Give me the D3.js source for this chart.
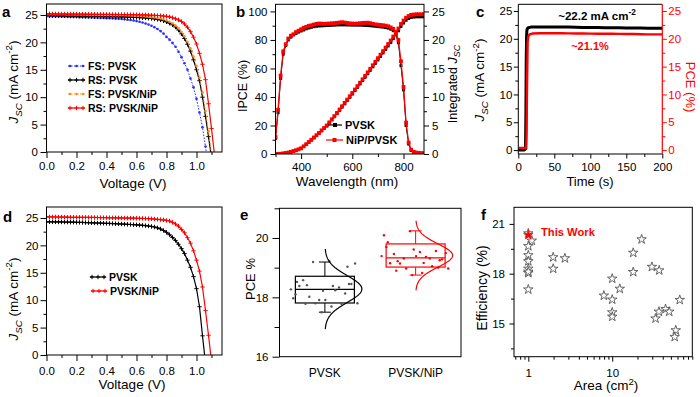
<!DOCTYPE html>
<html>
<head>
<meta charset="utf-8">
<script src="https://cdn.jsdelivr.net/npm/d3@7"></script>
<style>
body { margin: 0; background: #fff; }
svg text { font-family: Arial, "Liberation Sans", sans-serif; }
</style>
</head>
<body>
<svg id="fig" width="700" height="397"></svg>
<script>
// ---------- data ----------
// panel a / d : J-V curves, voltage grid (V)
const voltJV = [0,0.02,0.04,0.06,0.08,0.1,0.12,0.14,0.16,0.18,0.2,0.22,0.24,0.26,0.28,0.3,0.32,0.34,0.36,0.38,
  0.4,0.42,0.44,0.46,0.48,0.5,0.52,0.54,0.56,0.58,0.6,0.62,0.64,0.66,0.68,0.7,0.72,0.74,0.76,0.78,
  0.8,0.82,0.84,0.86,0.88,0.9,0.92,0.94,0.96,0.98,1,1.02,1.04,1.06,1.08,1.1,1.12];
// panel a (mA cm-2)
const jFsPvsk = [24.75,24.74,24.73,24.72,24.71,24.70,24.68,24.67,24.65,24.64,24.62,24.60,24.58,24.56,24.54,24.52,24.50,24.48,24.46,24.44,
  24.42,24.39,24.36,24.33,24.29,24.25,24.20,24.14,24.07,23.98,23.88,23.76,23.62,23.45,23.25,23.02,22.75,22.43,22.06,21.6,
  21.0,20.5,19.9,19.2,18.3,17.3,16.2,15.0,13.4,11.8,9.7,7.2,4.5,1.0,-3.0];
const jRsPvsk = [24.9,24.89,24.88,24.87,24.86,24.85,24.84,24.83,24.82,24.81,24.8,24.79,24.78,24.77,24.76,24.75,24.74,24.73,24.72,24.71,
  24.7,24.69,24.68,24.67,24.66,24.65,24.63,24.61,24.59,24.57,24.55,24.52,24.49,24.45,24.4,24.35,24.28,24.2,24.1,23.95,
  23.75,23.5,23.2,22.8,22.25,21.55,20.7,19.65,18.4,16.8,15.0,13.0,10.0,6.5,2.8,-1.0];
const jFsNip = [25.1,25.09,25.09,25.08,25.08,25.07,25.07,25.06,25.06,25.05,25.05,25.04,25.04,25.03,25.03,25.02,25.01,25.0,25.0,24.99,
  24.99,24.98,24.97,24.97,24.96,24.95,24.94,24.92,24.9,24.88,24.85,24.82,24.78,24.74,24.68,24.6,24.53,24.45,24.35,24.2,
  24.0,23.75,23.45,23.05,22.55,21.9,21.1,20.1,18.9,17.4,15.7,13.6,10.9,7.5,3.8,-0.3];
const jRsNip = [25.2,25.2,25.19,25.19,25.18,25.18,25.17,25.17,25.16,25.16,25.15,25.15,25.14,25.14,25.13,25.13,25.12,25.12,25.11,25.11,
  25.1,25.1,25.09,25.09,25.08,25.08,25.07,25.06,25.06,25.05,25.04,25.03,25.02,25.0,24.98,24.95,24.93,24.9,24.86,24.81,
  24.75,24.65,24.5,24.3,24.1,23.8,23.35,22.75,21.95,20.95,19.7,18.0,16.0,13.2,8.8,4.3,-0.5];
const legendA = ["FS: PVSK", "RS: PVSK", "FS: PVSK/NiP", "RS: PVSK/NiP"];

// panel d (mA cm-2)
const jPvskD = [24.3,24.3,24.29,24.29,24.28,24.27,24.26,24.25,24.24,24.23,24.21,24.2,24.18,24.16,24.14,24.12,24.1,24.08,24.06,24.04,
  24.02,24.0,23.98,23.95,23.92,23.9,23.87,23.84,23.81,23.78,23.75,23.71,23.66,23.6,23.53,23.45,23.35,23.2,23.0,22.72,
  22.38,21.95,21.45,20.9,20.2,19.4,18.5,17.3,16.0,14.3,12.1,8.8,3.5,-1.5];
const jNipD = [25.2,25.2,25.19,25.18,25.17,25.16,25.15,25.14,25.13,25.13,25.12,25.12,25.11,25.11,25.1,25.1,25.09,25.08,25.07,25.06,
  25.05,25.04,25.03,25.02,25.01,25.0,24.99,24.98,24.97,24.96,24.95,24.93,24.92,24.9,24.88,24.85,24.8,24.75,24.7,24.65,
  24.55,24.45,24.2,23.9,23.5,22.9,22.3,21.4,20.4,19.0,17.3,15.3,12.4,8.1,3.6,-1.2];
const legendD = ["PVSK", "PVSK/NiP"];

// panel b : IPCE (%) and integrated Jsc (mA cm-2)
const wavelength = [300,310,320,330,340,350,360,370,380,390,400,410,420,430,440,450,460,470,480,490,
  500,510,520,530,540,550,560,570,580,590,600,610,620,630,640,650,660,670,680,690,
  700,710,720,730,740,750,760,770,780,790,800,810,820,830,840,850,860,870,880];
const ipcePvsk = [11,29,53,70,76,80,82,83.5,84.5,85.5,86.3,87,87.8,88.4,88.9,89.3,89.6,89.8,89.9,90,
  90.1,90.2,90.3,90.4,90.5,90.6,90.6,90.6,90.5,90.5,90.4,90.4,90.4,90.4,90.3,90.2,90.1,90,89.8,89.6,
  89.4,89.2,89,88.7,88.3,87.6,86.5,84,78,62,45,20,7,2.5,1.2,0.8,0.6,0.5,0.4];
const ipceNip = [12,31,55,72,77,81,83,84,85.5,86.5,87.5,88.5,89.2,89.8,90.3,90.8,91.3,91.5,91.4,91.3,
  91.4,91.5,91.6,91.8,92,92.2,92.4,92.2,91.9,91.6,91.5,91.4,91.5,91.7,91.9,92,92.1,91.8,91.3,90.9,
  90.7,90.5,90.3,90,89.6,88.8,87.8,85.5,80,65,47,22,8,3,1.5,1,0.8,0.6,0.5];
const intPvsk = [0,0.01,0.04,0.1,0.17,0.25,0.37,0.49,0.64,0.8,0.98,1.32,1.69,2.06,2.45,2.85,3.24,3.63,4.07,4.49,
  4.91,5.45,5.99,6.53,7.07,7.66,8.23,8.8,9.37,9.94,10.51,11.1,11.69,12.28,12.87,13.46,14.07,14.68,15.29,15.9,
  16.51,17.12,17.73,18.34,18.95,19.56,20.24,20.92,21.6,22.38,22.97,23.46,23.76,23.96,24.01,24.06,24.06,24.06,24.06];
const intNip = [0,0.01,0.04,0.1,0.17,0.26,0.38,0.5,0.65,0.82,1.0,1.35,1.72,2.1,2.5,2.9,3.3,3.7,4.15,4.57,
  5.0,5.55,6.1,6.65,7.2,7.8,8.38,8.96,9.54,10.12,10.7,11.3,11.9,12.5,13.1,13.7,14.32,14.94,15.56,16.18,
  16.8,17.42,18.04,18.66,19.28,19.9,20.6,21.3,22.0,22.8,23.4,23.9,24.2,24.4,24.45,24.5,24.5,24.5,24.5];
const legendB = ["PVSK", "NiP/PVSK"];

// panel c : steady-state output
const timeC = [0,2,4,6,8,10,10.5,11,11.5,12,13,14,16,18,20,30,40,50,60,70,80,90,100,110,120,130,140,150,160,170,180,190,200];
const jscC = [0,0,0,0,0,0.2,6,16,20.5,21.6,21.9,22.0,22.05,22.1,22.1,22.1,22.1,22.1,22.1,22.1,22.08,22.05,22.05,22.03,
  22.0,22.0,21.98,21.95,21.95,21.92,21.9,21.9,21.88];
const pceC = [0.4,0.4,0.4,0.4,0.4,0.4,0.4,0.4,3,10,19.5,20.5,20.8,20.9,20.95,21.0,21.0,21.0,21.0,20.98,20.95,20.95,
  20.93,20.9,20.9,20.9,20.88,20.85,20.85,20.82,20.8,20.8,20.8];

// panel e : PCE statistics
const groupsE = ["PVSK", "PVSK/NiP"];
const pcePvskE = [18.27,18.38,18.41,18.45,18.22,18.52,18.33,19.19,19.14,19.23,18.58,18.13,17.91,17.97,18.24,18.02,18.45,
  17.91,18.38,17.78,17.80,17.80,17.69,17.78,19.03,17.5,18.1];
const pceNipE = [19.39,19.16,19.22,19.25,19.61,19.86,19.31,19.31,19.49,19.53,19.46,19.56,20.23,20.09,19.36,19.14,19.28,
  19.39,19.15,19.05,18.97,18.97,18.82,18.9,19.0,18.75,19.7];
const q1E = [17.81, 19.02];
const medianE = [18.27, 19.33];
const q3E = [18.71, 19.8];
const whiskLowE = [17.5, 18.75];
const whiskHighE = [19.19, 20.24];
const normMeanE = [18.28, 19.41];
const normSdE = [0.45, 0.39];

// panel f : efficiency vs area
const areaF = [1,1.1,1,1,1,1,1,1,1,1.98,1.98,2.73,7.95,10,10,10,10,12.3,17.8,17.8,22.4,29.7,36.3,32.8,36,43.2,47.8,63.8,57.2,55.5];
const effF = [20.43,19.99,19.66,19.11,18.75,18.3,18.04,18.12,17.05,18.99,18.3,18.93,16.68,17.7,16.44,15.67,15.41,17.09,
  19.26,18.1,20.07,18.41,18.2,15.3,15.71,15.87,15.71,16.42,14.59,14.19];
const thisWorkArea = [1];
const thisWorkEff = [20.33];

// ---------- helpers ----------
const svg = d3.select("#fig");
const RED = "#ff0000";

function makeClip(id, b) {
  svg.append("clipPath").attr("id", id).append("rect")
    .attr("x", b.x0).attr("y", b.y0).attr("width", b.x1 - b.x0).attr("height", b.y1 - b.y0);
}

function frame(b) {
  svg.append("rect").attr("x", b.x0).attr("y", b.y0)
    .attr("width", b.x1 - b.x0).attr("height", b.y1 - b.y0)
    .attr("fill", "none").attr("stroke", "#000").attr("stroke-width", 1);
}

// side: left | right | bottom
function axis(b, scale, side, o) {
  let gen = side == "left" ? d3.axisLeft(scale) : side == "right" ? d3.axisRight(scale) : d3.axisBottom(scale);
  gen.tickValues(o.major).tickSize(o.len || 6).tickPadding(o.pad).tickSizeOuter(0);
  if (o.fmt) gen.tickFormat(o.fmt);
  let tr = side == "left" ? "translate(" + b.x0 + ",0)" : side == "right" ? "translate(" + b.x1 + ",0)" : "translate(0," + b.y1 + ")";
  let g = svg.append("g").attr("transform", tr).attr("color", o.color || "#000").call(gen);
  g.select(".domain").remove();
  g.selectAll("text").attr("font-size", o.size || 11.5).attr("font-family", "Arial, 'Liberation Sans', sans-serif");
  if (o.minor) {
    let mgen = side == "left" ? d3.axisLeft(scale) : side == "right" ? d3.axisRight(scale) : d3.axisBottom(scale);
    mgen.tickValues(o.minor).tickSize(o.mlen || 3).tickFormat("").tickSizeOuter(0);
    let m = svg.append("g").attr("transform", tr).attr("color", o.color || "#000").call(mgen);
    m.select(".domain").remove();
  }
}

// text with italic / sub / sup runs
function richText(x, y, rot, parts, size, color, weight) {
  let t = svg.append("text")
    .attr("transform", "translate(" + x + "," + y + ") rotate(" + rot + ")")
    .attr("text-anchor", "middle").attr("font-size", size)
    .attr("fill", color || "#000").attr("font-weight", weight || "normal");
  let shift = 0;
  parts.forEach(p => {
    let s = p[0], kind = p[1] || "";
    let ts = t.append("tspan").text(s);
    let target = kind.includes("sub") ? 0.3 * size : kind.includes("sup") ? -0.4 * size : 0;
    if (target != shift) { ts.attr("dy", target - shift); shift = target; }
    if (kind.includes("sub") || kind.includes("sup")) ts.attr("font-size", size * 0.72);
    if (kind.includes("i")) ts.attr("font-style", "italic");
  });
  return t;
}

function label(x, y, s, size, opts) {
  opts = opts || {};
  return svg.append("text").attr("x", x).attr("y", y).text(s)
    .attr("font-size", size).attr("font-weight", opts.weight || "normal")
    .attr("fill", opts.color || "#000").attr("text-anchor", opts.anchor || "start");
}

const jscTitle = [["J", "i"], ["SC", "isub"], [" (mA cm"], ["-2", "sup"], [")"]];
const plus = "M-2.2,0H2.2M0,-2.2V2.2";

function jvSeries(clip, x, y, jArr, color, style) {
  let data = jArr.map((j, i) => ({ v: voltJV[i], j: j }));
  let g = svg.append("g").attr("clip-path", "url(#" + clip + ")");
  g.append("path").datum(data)
    .attr("d", d3.line().x(d => x(d.v)).y(d => y(d.j)))
    .attr("fill", "none").attr("stroke", color).attr("stroke-width", style == "dot" ? 1 : 1.2)
    .attr("stroke-dasharray", style == "dot" ? "1.6,1.4" : null);
  if (style == "dot") {
    g.selectAll("circle").data(data).enter().append("circle")
      .attr("cx", d => x(d.v)).attr("cy", d => y(d.j)).attr("r", 1.3).attr("fill", color);
  } else {
    g.selectAll(".mk").data(data).enter().append("path")
      .attr("transform", d => "translate(" + x(d.v) + "," + y(d.j) + ")")
      .attr("d", plus).attr("stroke", color).attr("stroke-width", 1);
  }
}

function legendRow(x0, x1, y, s, color, style, size) {
  svg.append("line").attr("x1", x0).attr("x2", x1).attr("y1", y).attr("y2", y)
    .attr("stroke", color).attr("stroke-width", style == "dot" ? 1 : 1.2)
    .attr("stroke-dasharray", style == "dot" ? "1.6,1.4" : null);
  let cx = (x0 + x1) / 2;
  if (style == "dot") {
    [x0 + 2, cx, x1 - 2].forEach(px => svg.append("circle").attr("cx", px).attr("cy", y).attr("r", 1.3).attr("fill", color));
  } else if (style == "sq") {
    svg.append("rect").attr("x", cx - 2).attr("y", y - 2).attr("width", 4).attr("height", 4).attr("fill", color);
  } else {
    [x0 + 2, cx, x1 - 2].forEach(px => svg.append("path").attr("transform", "translate(" + px + "," + y + ")")
      .attr("d", plus).attr("stroke", color));
  }
  label(x1 + 3, y + 4, s, size, { weight: "bold" });
}

// ---------- panel a ----------
const A = { x0: 46.5, x1: 222, y0: 4, y1: 152 };
makeClip("clipA", A);
let xA = d3.scaleLinear().domain([0, 1.17]).range([A.x0, A.x1]);
let yA = d3.scaleLinear().domain([0, 27]).range([A.y1, A.y0]);
jvSeries("clipA", xA, yA, jFsPvsk, "#2d2dff", "dot");
jvSeries("clipA", xA, yA, jRsPvsk, "#000", "plus");
jvSeries("clipA", xA, yA, jFsNip, "#ff8c1a", "dot");
jvSeries("clipA", xA, yA, jRsNip, RED, "plus");
frame(A);
axis(A, xA, "bottom", { major: [0, 0.2, 0.4, 0.6, 0.8, 1.0], minor: [0.1, 0.3, 0.5, 0.7, 0.9, 1.1], pad: 3.5, fmt: d3.format(".1f") });
axis(A, yA, "left", { major: [0, 5, 10, 15, 20, 25], minor: [2.5, 7.5, 12.5, 17.5, 22.5], pad: 2.5 });
legendRow(68, 85, 66, legendA[0], "#2d2dff", "dot", 10.5);
legendRow(68, 85, 80, legendA[1], "#000", "plus", 10.5);
legendRow(68, 85, 94, legendA[2], "#ff8c1a", "dot", 10.5);
legendRow(68, 85, 108, legendA[3], RED, "plus", 10.5);
richText(17.5, 82, -90, jscTitle, 13.5);
label(133, 188, "Voltage (V)", 13.5, { anchor: "middle" });
label(2, 17, "a", 15, { weight: "bold" });

// ---------- panel b ----------
const B = { x0: 275.5, x1: 424, y0: 4.3, y1: 154 };
makeClip("clipB", B);
let xB = d3.scaleLinear().domain([300, 880]).range([B.x0, B.x1]);
let yB = d3.scaleLinear().domain([0, 105]).range([B.y1, B.y0]);
let yB2 = d3.scaleLinear().domain([0, 26.25]).range([B.y1, B.y0]);
function ipceSeries(vals, yScale, color, sq, lw) {
  let data = vals.map((v, i) => ({ w: wavelength[i], v: v }));
  let g = svg.append("g").attr("clip-path", "url(#clipB)");
  g.append("path").datum(data).attr("d", d3.line().x(d => xB(d.w)).y(d => yScale(d.v)))
    .attr("fill", "none").attr("stroke", color).attr("stroke-width", lw);
  g.selectAll("rect").data(data).enter().append("rect")
    .attr("x", d => xB(d.w) - sq / 2).attr("y", d => yScale(d.v) - sq / 2)
    .attr("width", sq).attr("height", sq).attr("fill", color);
}
ipceSeries(ipcePvsk, yB, "#000", 3, 1);
ipceSeries(intPvsk, yB2, "#000", 3, 1);
ipceSeries(ipceNip, yB, RED, 3.8, 1.3);
ipceSeries(intNip, yB2, RED, 3.8, 1.3);
frame(B);
axis(B, xB, "bottom", { major: [400, 600, 800], minor: [300, 500, 700], len: 5, pad: 4 });
axis(B, yB, "left", { major: [0, 20, 40, 60, 80, 100], minor: [10, 30, 50, 70, 90], len: 5, pad: 3 });
axis(B, yB2, "right", { major: [0, 5, 10, 15, 20, 25], minor: [2.5, 7.5, 12.5, 17.5, 22.5], len: 5, pad: 3 });
legendRow(328, 342, 125, legendB[0], "#000", "sq", 11);
legendRow(326, 343, 140, legendB[1], RED, "sq", 11);
richText(247, 86, -90, [["IPCE (%)"]], 12.5);
richText(456.5, 84, -90, [["Integrated "], ["J", "i"], ["SC", "isub"]], 12.5);
label(347, 186, "Wavelength (nm)", 13.5, { anchor: "middle" });
label(236, 17, "b", 15, { weight: "bold" });

// ---------- panel c ----------
const C = { x0: 518.3, x1: 662.3, y0: 4.3, y1: 154 };
makeClip("clipC", C);
let xC = d3.scaleLinear().domain([0, 200]).range([C.x0, C.x1]);
let yC = d3.scaleLinear().domain([-0.7, 26.2]).range([C.y1, C.y0]);
let gC = svg.append("g").attr("clip-path", "url(#clipC)");
gC.append("path").datum(timeC.map((t, i) => ({ t: t, v: jscC[i] })))
  .attr("d", d3.line().x(d => xC(d.t)).y(d => yC(d.v)))
  .attr("fill", "none").attr("stroke", "#000").attr("stroke-width", 3);
gC.append("path").datum(timeC.map((t, i) => ({ t: t, v: pceC[i] })))
  .attr("d", d3.line().x(d => xC(d.t)).y(d => yC(d.v)))
  .attr("fill", "none").attr("stroke", RED).attr("stroke-width", 2.4);
svg.append("path").attr("d", "M" + C.x1 + "," + C.y0 + "H" + C.x0 + "V" + C.y1 + "H" + C.x1)
  .attr("fill", "none").attr("stroke", "#000");
svg.append("line").attr("x1", C.x1).attr("x2", C.x1).attr("y1", C.y0).attr("y2", C.y1).attr("stroke", RED).attr("stroke-width", 1.2);
axis(C, xC, "bottom", { major: [0, 50, 100, 150, 200], minor: [25, 75, 125, 175], len: 4.5, pad: 4.5 });
axis(C, yC, "left", { major: [0, 5, 10, 15, 20, 25], minor: [2.5, 7.5, 12.5, 17.5, 22.5], len: 4.5, pad: 1.5 });
axis(C, yC, "right", { major: [0, 5, 10, 15, 20, 25], minor: [2.5, 7.5, 12.5, 17.5, 22.5], len: 4.5, pad: 1.5, color: RED });
richText(597, 20, 0, [["~22.2 mA cm"], ["-2", "sup"]], 11.5, "#000", "bold");
label(590, 50, "~21.1%", 11, { weight: "bold", anchor: "middle", color: RED });
richText(484, 80, -90, jscTitle, 13.5);
richText(685.5, 87, 90, [["PCE (%)"]], 13, RED);
label(590, 186, "Time (s)", 13, { anchor: "middle" });
label(476, 17, "c", 15, { weight: "bold" });

// ---------- panel d ----------
const D = { x0: 46.5, x1: 222, y0: 207, y1: 355 };
makeClip("clipD", D);
let xD = d3.scaleLinear().domain([0, 1.17]).range([D.x0, D.x1]);
let yD = d3.scaleLinear().domain([0, 27]).range([D.y1, D.y0]);
jvSeries("clipD", xD, yD, jPvskD, "#000", "plus");
jvSeries("clipD", xD, yD, jNipD, RED, "plus");
frame(D);
axis(D, xD, "bottom", { major: [0, 0.2, 0.4, 0.6, 0.8, 1.0], minor: [0.1, 0.3, 0.5, 0.7, 0.9, 1.1], pad: 6, fmt: d3.format(".1f") });
axis(D, yD, "left", { major: [0, 5, 10, 15, 20, 25], minor: [2.5, 7.5, 12.5, 17.5, 22.5], pad: 2 });
legendRow(90, 106, 277, legendD[0], "#000", "plus", 10.5);
legendRow(91, 107, 291, legendD[1], RED, "plus", 10.5);
richText(17.5, 299, -90, jscTitle, 13.5);
label(132, 389, "Voltage (V)", 13.5, { anchor: "middle" });
label(3, 222, "d", 15, { weight: "bold" });

// ---------- panel e ----------
const E = { x0: 279.5, x1: 461, y0: 208.3, y1: 356.7 };
let xE = d3.scalePoint().domain(groupsE).range([E.x0, E.x1]).padding(0.5);
let yE = d3.scaleLinear().domain([16, 21]).range([E.y1, E.y0]);
frame(E);
axis(E, yE, "left", { major: [16, 18, 20], minor: [17, 19, 21], len: 7, mlen: 5, pad: 4, fmt: d3.format("d") });
[pcePvskE, pceNipE].forEach((pts, k) => {
  let cx = xE(groupsE[k]);
  let col = k == 0 ? "#000" : RED;
  let half = 29.5;
  // whiskers
  svg.append("line").attr("x1", cx).attr("x2", cx).attr("y1", yE(whiskLowE[k])).attr("y2", yE(q1E[k])).attr("stroke", col);
  svg.append("line").attr("x1", cx).attr("x2", cx).attr("y1", yE(whiskHighE[k])).attr("y2", yE(q3E[k])).attr("stroke", col);
  [whiskLowE[k], whiskHighE[k]].forEach(v => svg.append("line").attr("x1", cx - 6).attr("x2", cx + 6)
    .attr("y1", yE(v)).attr("y2", yE(v)).attr("stroke", col));
  svg.append("rect").attr("x", cx - half).attr("width", 2 * half)
    .attr("y", yE(q3E[k])).attr("height", yE(q1E[k]) - yE(q3E[k]))
    .attr("fill", "none").attr("stroke", col).attr("stroke-width", 1.2);
  svg.append("line").attr("x1", cx - half).attr("x2", cx + half)
    .attr("y1", yE(medianE[k])).attr("y2", yE(medianE[k])).attr("stroke", col).attr("stroke-width", 1.2);
  // points, spread across the box with a fixed index jitter
  svg.selectAll(null).data(pts).enter().append("circle")
    .attr("cx", (d, i) => cx + (((i * 0.618034) % 1) - 0.5) * 68)
    .attr("cy", d => yE(d)).attr("r", 1.2).attr("fill", k == 0 ? "#555" : RED);
  // normal curve
  let mu = normMeanE[k], sd = normSdE[k];
  let ys = d3.range(mu - 3 * sd, mu + 3 * sd + 1e-9, sd / 20);
  svg.append("path").datum(ys)
    .attr("d", d3.line().x(v => cx + 37 * Math.exp(-((v - mu) * (v - mu)) / (2 * sd * sd))).y(v => yE(v)))
    .attr("fill", "none").attr("stroke", col).attr("stroke-width", 1.2);
  label(cx, 377, groupsE[k], 12, { anchor: "middle" });
});
richText(254.5, 279, -90, [["PCE %"]], 13);
label(240, 220, "e", 15, { weight: "bold" });

// ---------- panel f ----------
const F = { x0: 514, x1: 692.3, y0: 207.3, y1: 356.7 };
let xF = d3.scaleLog().domain([0.675, 90]).range([F.x0, F.x1]);
let yF = d3.scaleLinear().domain([13, 22]).range([F.y1, F.y0]);
frame(F);
axis(F, xF, "bottom", { major: [1, 10], minor: [0.7, 0.8, 0.9, 2, 3, 4, 5, 6, 7, 8, 9, 20, 30, 40, 50, 60, 70, 80, 90], len: 5, mlen: 3, pad: 7, fmt: d3.format("d") });
axis(F, yF, "left", { major: [15, 18, 21], minor: [13.5, 16.5, 19.5], len: 4.5, pad: 4.5 });
let star = d3.symbol().type(d3.symbolStar).size(28);
svg.selectAll(null).data(areaF).enter().append("path")
  .attr("transform", (d, i) => "translate(" + xF(d) + "," + yF(effF[i]) + ")")
  .attr("d", star).attr("fill", "#fff").attr("stroke", "#555").attr("stroke-width", 0.9);
svg.selectAll(null).data(thisWorkArea).enter().append("path")
  .attr("transform", (d, i) => "translate(" + xF(d) + "," + yF(thisWorkEff[i]) + ")")
  .attr("d", star).attr("fill", RED).attr("stroke", RED).attr("stroke-width", 0.6);
label(541, 236, "This Work", 11.2, { weight: "bold", color: RED });
richText(486.5, 288, -90, [["Efficiency (%)"]], 14);
richText(606, 390, 0, [["Area (cm"], ["2", "sup"], [")"]], 13.5);
label(481, 220, "f", 15, { weight: "bold" });
</script>
</body>
</html>
